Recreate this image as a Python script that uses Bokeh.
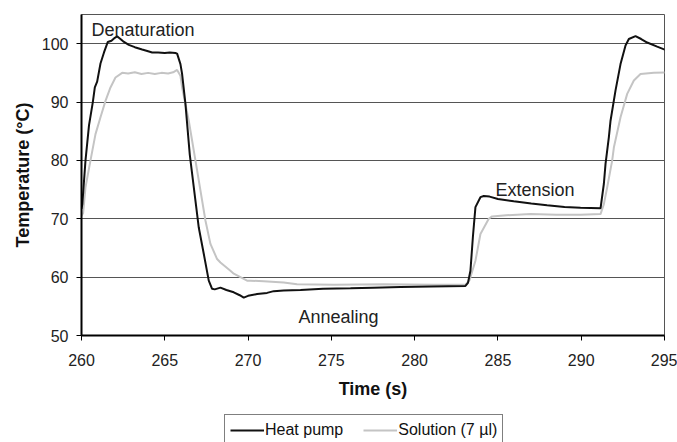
from bokeh.plotting import figure
from bokeh.layouts import column
from bokeh.models import Legend, LegendItem, FixedTicker, Range1d
from bokeh.core.properties import value
from bokeh.embed import file_html
from bokeh.resources import INLINE

# ---- data ----
hp_time = [260.0, 260.05, 260.24, 260.45, 260.68, 260.80, 260.94, 261.14, 261.35, 261.58,
           261.80, 262.00, 262.14, 262.30, 262.50, 262.84, 263.20, 263.64, 264.00, 264.24,
           264.60, 265.00, 265.30, 265.64, 265.74, 265.94, 266.04, 266.24, 266.50, 266.84,
           267.04, 267.34, 267.64, 267.84, 268.00, 268.34, 268.70, 269.14, 269.50, 269.74,
           270.00, 270.54, 271.14, 271.54, 272.14, 273.15, 274.50, 276.15, 277.50, 279.15,
           281.00, 283.05, 283.20, 283.35, 283.50, 283.65, 283.95, 284.15, 284.50, 285.00,
           285.95, 287.00, 287.95, 289.00, 289.96, 291.16, 291.36, 291.46, 291.66, 291.76,
           292.06, 292.36, 292.66, 292.86, 293.26, 293.60, 293.96, 294.56, 295.26]
hp_temp = [71.7, 72.5, 80.0, 86.0, 90.0, 92.5, 93.5, 96.6, 98.5, 100.3,
           100.5, 101.0, 101.25, 100.9, 100.4, 99.8, 99.4, 99.0, 98.7, 98.5,
           98.5, 98.4, 98.5, 98.4, 98.3, 96.5, 94.8, 89.7, 81.0, 73.1,
           68.5, 64.0, 59.4, 58.0, 57.9, 58.2, 57.8, 57.4, 56.9, 56.5,
           56.8, 57.1, 57.3, 57.6, 57.7, 57.8, 58.0, 58.1, 58.2, 58.3,
           58.4, 58.5, 59.0, 61.1, 67.0, 72.0, 73.7, 73.9, 73.8, 73.4,
           73.0, 72.6, 72.3, 72.0, 71.9, 71.8, 76.0, 79.4, 84.0, 86.8,
           92.0, 96.5, 99.7, 100.8, 101.3, 100.8, 100.2, 99.5, 98.7]

sol_time = [260.0, 260.1, 260.24, 260.54, 260.84, 261.14, 261.44, 261.74, 262.04, 262.44,
            262.8, 263.2, 263.6, 264.0, 264.4, 264.8, 265.2, 265.5, 265.74, 265.94,
            266.04, 266.44, 266.94, 267.44, 267.74, 268.14, 268.34, 268.94, 269.14, 269.94,
            270.14, 270.94, 272.14, 272.94, 275.15, 278.15, 281.15, 283.05, 283.3, 283.65,
            283.95, 284.45, 284.65, 285.5, 286.96, 288.5, 289.96, 291.16, 291.36, 291.56,
            291.86, 291.96, 292.36, 292.76, 293.16, 293.56, 294.36, 295.26]
sol_temp = [70.5, 71.0, 75.4, 80.0, 84.5, 87.4, 90.2, 92.5, 94.2, 95.0,
            94.9, 95.1, 94.8, 95.0, 94.8, 95.0, 94.9, 95.1, 95.5, 94.5,
            92.5, 86.8, 78.3, 69.7, 65.7, 63.1, 62.5, 61.1, 60.6, 59.4,
            59.4, 59.3, 59.1, 58.8, 58.7, 58.8, 58.7, 58.7, 59.5, 62.8,
            67.4, 70.0, 70.4, 70.6, 70.8, 70.7, 70.7, 70.8, 72.5, 75.4,
            80.0, 82.2, 87.4, 91.4, 93.7, 94.8, 95.0, 95.1]

x_ticks = [260, 265, 270, 275, 280, 285, 290, 295]
y_ticks = [50, 60, 70, 80, 90, 100]

phase_labels = ["Denaturation", "Annealing", "Extension"]
phase_time = [260.6, 273.03, 284.85]
phase_temp = [102.35, 53.25, 74.95]

series_names = ["Heat pump", "Solution (7 \u00b5l)"]

FONT = "Liberation Sans"
HP_COLOR = "#111111"
SOL_COLOR = "#c4c4c4"

p = figure(width=677, height=410, output_backend="svg", toolbar_location=None,
           x_range=Range1d(260, 295), y_range=Range1d(50, 105),
           min_border_left=81, min_border_right=13, min_border_top=14, min_border_bottom=75)
p.background_fill_color = "white"
p.border_fill_color = "white"
p.outline_line_color = "#555555"
p.outline_line_width = 1

p.xgrid.visible = False
p.ygrid.ticker = FixedTicker(ticks=y_ticks)
p.ygrid.grid_line_color = "#555555"
p.ygrid.grid_line_width = 1

for ax in (p.xaxis[0], p.yaxis[0]):
    ax.axis_line_color = "black"
    ax.axis_line_width = 2
    ax.major_tick_line_color = "black"
    ax.major_tick_in = 0
    ax.major_tick_out = 5
    ax.minor_tick_line_color = None
    ax.major_label_text_font = FONT
    ax.major_label_text_font_size = "16px"
    ax.major_label_text_color = "#222222"
    ax.axis_label_text_font = FONT
    ax.axis_label_text_font_size = "18px"
    ax.axis_label_text_font_style = "bold"
    ax.axis_label_text_color = "#111111"

p.xaxis.ticker = FixedTicker(ticks=x_ticks)
p.yaxis.ticker = FixedTicker(ticks=y_ticks)
p.xaxis.axis_label = "Time (s)"
p.yaxis.axis_label = "Temperature (\u00b0C)"
p.xaxis.major_label_standoff = 13
p.yaxis.major_label_standoff = 8
p.xaxis.axis_label_standoff = 10
p.yaxis.axis_label_standoff = 6

p.line(sol_time, sol_temp, line_color=SOL_COLOR, line_width=2)
p.line(hp_time, hp_temp, line_color=HP_COLOR, line_width=2)

p.text(x=phase_time, y=phase_temp, text=phase_labels, text_font=value(FONT),
       text_font_size="18px", text_color="#222222", text_align="left",
       text_baseline="alphabetic")

# legend strip below the chart (its lines hold the same series, outside its view)
lg = figure(width=677, height=32, output_backend="svg", toolbar_location=None,
            x_range=Range1d(0, 1), y_range=Range1d(0, 1),
            x_axis_type=None, y_axis_type=None,
            min_border_left=0, min_border_right=0, min_border_top=0, min_border_bottom=0)
lg.outline_line_color = None
lg.xgrid.visible = False
lg.ygrid.visible = False
l_hp = lg.line(hp_time, hp_temp, line_color=HP_COLOR, line_width=2)
l_sol = lg.line(sol_time, sol_temp, line_color=SOL_COLOR, line_width=2)

legend = Legend(items=[LegendItem(label=series_names[0], renderers=[l_hp]),
                       LegendItem(label=series_names[1], renderers=[l_sol])],
                orientation="horizontal", location=(143, -4))
legend.border_line_color = "black"
legend.border_line_width = 1
legend.background_fill_color = "white"
legend.background_fill_alpha = 1
legend.label_text_font = FONT
legend.label_text_font_size = "16px"
legend.label_text_color = "#111111"
legend.glyph_width = 34
legend.glyph_height = 20
legend.label_height = 20
legend.label_standoff = 1
legend.spacing = 20
legend.padding = 5
legend.margin = 0
lg.add_layout(legend, "center")

open("out.html", "w").write(file_html(column(p, lg, spacing=0), INLINE))
